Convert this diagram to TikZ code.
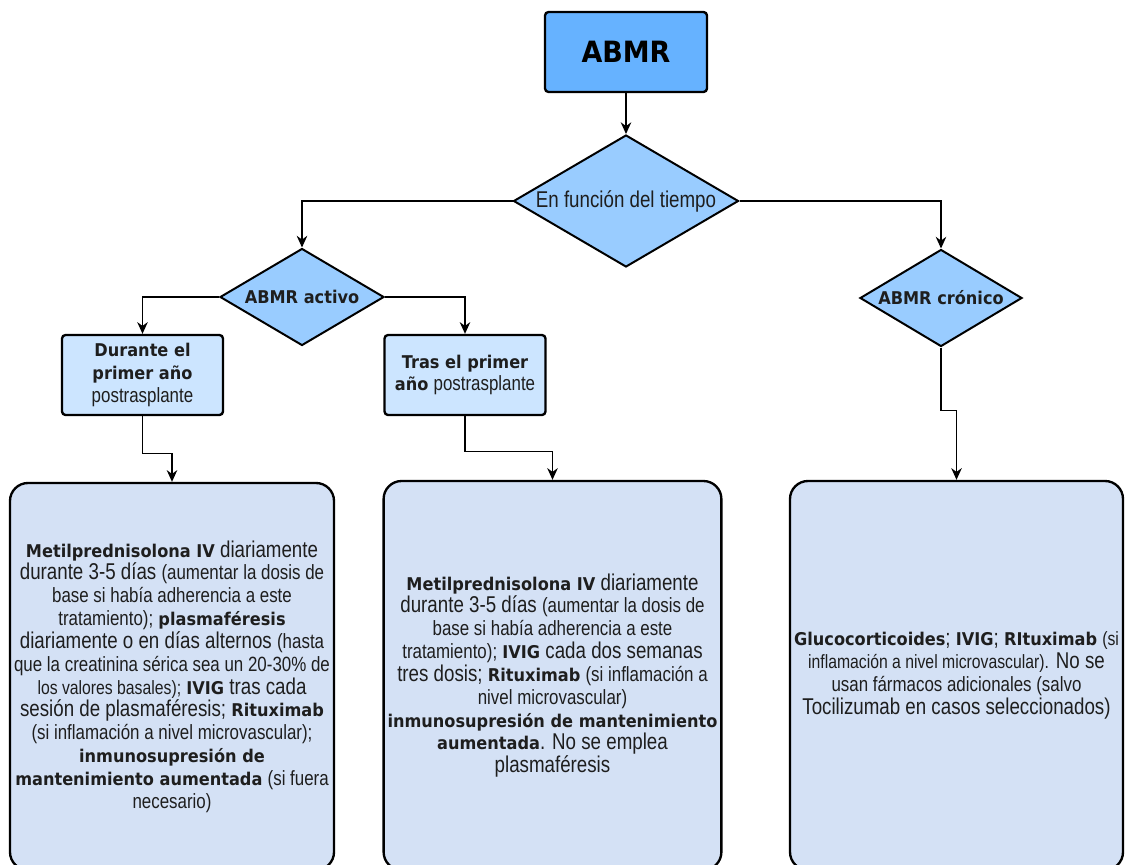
\documentclass[tikz,border=0pt]{standalone}
\usepackage{fontspec}
\setmainfont{Liberation Sans}[FakeStretch=0.82]
\newfontfamily\heavyfont{DejaVu Sans}[FakeStretch=0.92]
\usepackage{xcolor}
\usetikzlibrary{positioning,arrows.meta,shapes.geometric,calc}

\definecolor{titleblue}{HTML}{66B2FF}
\definecolor{decblue}{HTML}{99CCFF}
\definecolor{periodblue}{HTML}{CCE5FF}
\definecolor{therapyblue}{HTML}{D4E1F5}
\definecolor{inkgray}{HTML}{1E1E1E}

% bold drug names, and the two smaller text sizes of the boxes
\newcommand{\hb}[1]{{\heavyfont\bfseries\fontsize{15}{19.5}\selectfont #1}}
\newcommand{\sm}[1]{{\fontsize{17.6}{19.5}\selectfont #1}}
\newcommand{\tn}[1]{{\fontsize{16.4}{19.5}\selectfont #1}}
\newcommand{\boxfont}{\fontsize{19.5}{19.5}\selectfont\lineskiplimit=-50pt\relax}

\begin{document}
\begin{tikzpicture}[x=0.03cm, y=-0.03cm, >={Stealth[length=10pt,width=9pt]},
    font=\boxfont,
    title/.style={draw, line width=2pt, fill=titleblue, rounded corners=3pt,
        minimum width=4.86cm, minimum height=2.4cm,
        font=\heavyfont\bfseries\fontsize{25}{30}\selectfont},
    decision/.style={diamond, draw, line width=1.7pt, fill=decblue, inner sep=0pt,
        aspect=1.7, text=inkgray},
    period/.style={draw, line width=2pt, fill=periodblue, rounded corners=3pt,
        minimum width=4.83cm, minimum height=2.4cm, align=center, text=inkgray},
    therapy/.style={draw, line width=2pt, fill=therapyblue, rounded corners=0.54cm,
        align=center, text=inkgray},
    link/.style={->, line width=1.1pt}]

    \useasboundingbox (0,0) rectangle (1125,864);
    \clip (0,0) rectangle (1125,864);

    % Root and first decision
    \node[title] (abmr) at (626,52) {ABMR};
    \node[decision, minimum width=6.75cm, minimum height=3.96cm] (tiempo) at (626,201) {En función del tiempo};

    % Second level decisions
    \node[decision, minimum width=4.92cm, minimum height=2.91cm, font=\heavyfont\bfseries\fontsize{15}{18}\selectfont] (activo) at (302,297) {ABMR activo};
    \node[decision, minimum width=4.86cm, minimum height=2.91cm, font=\heavyfont\bfseries\fontsize{15}{18}\selectfont] (cronico) at (941,298) {ABMR crónico};

    % Time after transplant
    \node[period] (primero) at (142.5,375) {\hb{Durante el}\\\hb{primer año}\\\sm{postrasplante}};
    \node[period] (tras) at (465,375) {\hb{Tras el primer}\\\hb{año} \sm{postrasplante}};

    % Treatment boxes
    \node[therapy, minimum width=9.72cm, minimum height=11.61cm] (trat1) at (172,676.5) {%
        \hb{Metilprednisolona IV} diariamente\\
        durante 3-5 días \sm{(aumentar la dosis de}\\
        \sm{base si había adherencia a este}\\
        \sm{tratamiento);} \hb{plasmaféresis}\\
        diariamente o en días alternos \sm{(hasta}\\
        \sm{que la creatinina sérica sea un 20-30\% de}\\
        \tn{los valores basales);} \hb{IVIG} tras cada\\
        sesión de plasmaféresis; \hb{Rituximab}\\
        \sm{(si inflamación a nivel microvascular);}\\
        \hb{inmunosupresión de}\\
        \hb{mantenimiento aumentada} \sm{(si fuera}\\
        \sm{necesario)}};
    \node[therapy, minimum width=10.05cm, minimum height=11.67cm] (trat2) at (552.5,675.5) {%
        \hb{Metilprednisolona IV} diariamente\\
        durante 3-5 días \sm{(aumentar la dosis de}\\
        \sm{base si había adherencia a este}\\
        \sm{tratamiento);} \hb{IVIG} cada dos semanas\\
        tres dosis; \hb{Rituximab} \sm{(si inflamación a}\\
        \sm{nivel microvascular)}\\
        \hb{inmunosupresión de mantenimiento}\\
        \hb{aumentada}. No se emplea\\
        plasmaféresis};
    \node[therapy, minimum width=9.99cm, minimum height=11.67cm] (trat3) at (956.5,675.5) {%
        \hb{Glucocorticoides}; \hb{IVIG}; \hb{RItuximab} \tn{(si}\\
        \tn{inflamación a nivel microvascular).} No se\\
        \sm{usan fármacos adicionales (salvo}\\
        Tocilizumab en casos seleccionados)};

    % Connectors
    \draw[link] (abmr.south) -- (tiempo.north);
    \draw[link] (tiempo.west) -| (activo.north);
    \draw[link] (tiempo.east) -| (cronico.north);
    \draw[link] (activo.west) -| (primero.north);
    \draw[link] (activo.east) -| (tras.north);
    \draw[link] (primero.south) -- ++(0,37) -| (trat1.north);
    \draw[link] (tras.south) -- ++(0,35) -| (trat2.north);
    \draw[link] (cronico.south) -- ++(0,63) -| (trat3.north);

\end{tikzpicture}
\end{document}
